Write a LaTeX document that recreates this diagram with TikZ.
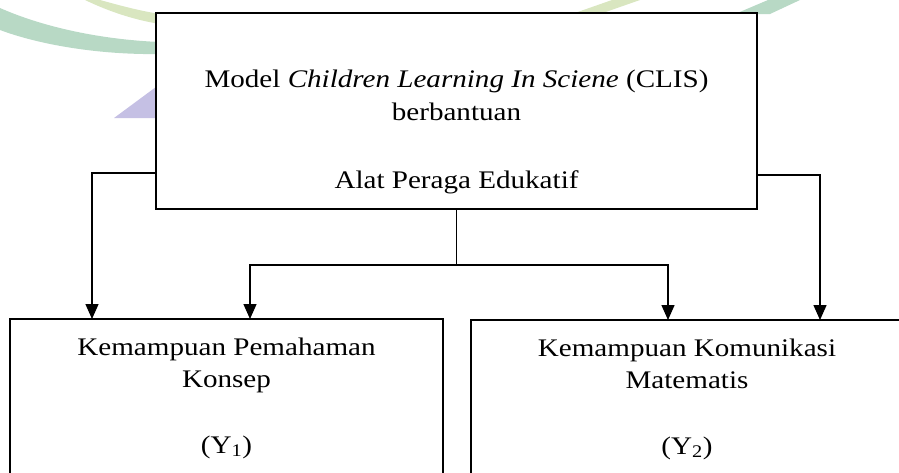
\documentclass[tikz,border=0pt]{standalone}
\usepackage{fontspec}
\setmainfont{Liberation Serif}[FakeStretch=1.15]
\usetikzlibrary{arrows.meta}
\definecolor{wmteal}{RGB}{125,185,150}
\definecolor{wmlime}{RGB}{185,210,140}
\definecolor{wmpurple}{RGB}{150,140,205}
\tikzset{
  boxnode/.style={draw=black, line width=1.6pt, fill=white, rectangle, inner sep=0pt},
  txt/.style={anchor=base, inner sep=0pt, font=\fontsize{25.3}{30}\selectfont},
  conn/.style={draw=black, line width=1.4pt},
  arr/.style={conn, -{Triangle[length=15pt,width=13pt]}},
  wm/.style={opacity=0.55}
}
\begin{document}
\begin{tikzpicture}[x=1pt,y=-1pt]
\useasboundingbox (0,0) rectangle (899,472);
% watermark
\fill[wmteal,wm] (0,8) .. controls (50,30) and (110,40) .. (160,42) -- (160,54) .. controls (100,55) and (40,45) .. (0,30) -- cycle;
\fill[wmlime,wm] (85,0) .. controls (110,12) and (135,20) .. (160,24) -- (160,14) .. controls (135,10) and (115,4) .. (100,0) -- cycle;
\fill[wmpurple,wm] (114,118) -- (160,84) -- (160,118) -- cycle;
\fill[wmlime,wm] (572,14) -- (600,14) -- (640,0) -- (612,0) -- cycle;
\fill[wmteal,wm] (735,14) -- (770,14) -- (800,0) -- (768,0) -- cycle;
% boxes
\node[boxnode, minimum width=601pt, minimum height=196pt] (top) at (456.5,111) {};
\node[boxnode, minimum width=433pt, minimum height=170pt] (yone) at (226.5,404) {};
\node[boxnode, minimum width=432pt, minimum height=170pt] (ytwo) at (687,405) {};
% texts
\node[txt] (t1) at (456.5,87) {Model \textit{Children Learning In Sciene} (CLIS)};
\node[txt] (t2) at (456.5,120) {berbantuan};
\node[txt] (t3) at (456.5,188) {Alat Peraga Edukatif};
\node[txt] (l1) at (226.5,355) {Kemampuan Pemahaman};
\node[txt] (l2) at (226.5,387) {Konsep};
\node[txt] (l3) at (226.5,453) {(Y\textsubscript{1})};
\node[txt] (r1) at (687,356) {Kemampuan Komunikasi};
\node[txt] (r2) at (687,388) {Matematis};
\node[txt] (r3) at (687,454) {(Y\textsubscript{2})};
% connector points
\coordinate (tl) at (156,173);
\coordinate (tr) at (757,175);
\coordinate (mid) at (456.5,265);
\coordinate (a1) at (92,319);
\coordinate (a2) at (250,319);
\coordinate (a3) at (668,320);
\coordinate (a4) at (820,320);
% connectors
\draw[arr] (tl) -| (a1);
\draw[arr] (tr) -| (a4);
\draw[conn] (top.south) -- (mid);
\draw[arr] (mid) -| (a2);
\draw[arr] (mid) -| (a3);
\end{tikzpicture}
\end{document}
